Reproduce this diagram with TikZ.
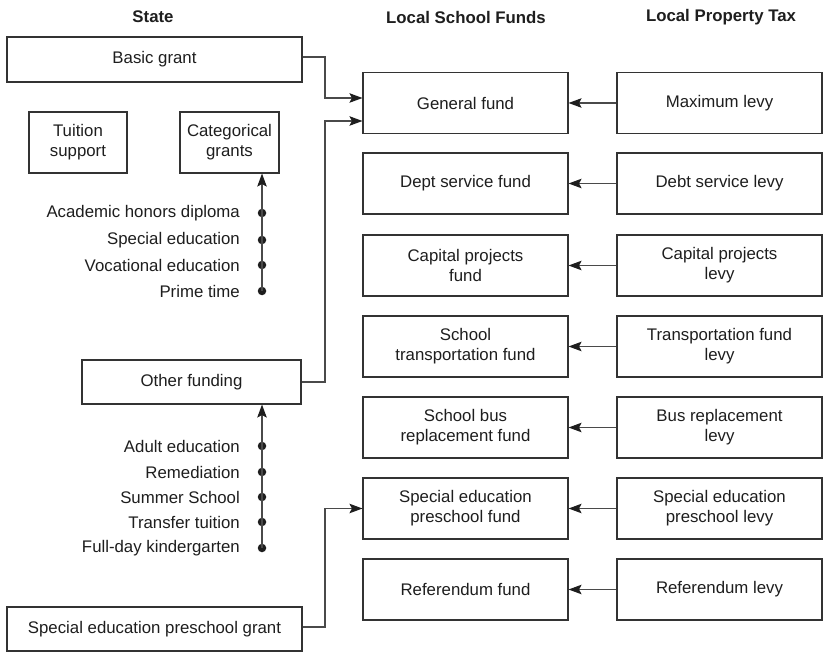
\documentclass[tikz,border=0pt]{standalone}
\usepackage{fontspec}
\setmainfont{Liberation Sans}
\usetikzlibrary{arrows.meta}
\definecolor{ink}{HTML}{1E1E1E}
\definecolor{boxline}{HTML}{333333}
\definecolor{conn}{HTML}{4A4A4A}
\begin{document}
\begin{tikzpicture}[x=1pt,y=-1pt,
  every node/.style={font=\fontsize{16.8}{20}\selectfont, text=ink},
  fbox/.style={draw=boxline, line width=1.1pt, rectangle, inner sep=0pt, align=center},
  colbox/.style={fbox, minimum width=205pt, minimum height=61pt},
  hdr/.style={font=\fontsize{16.8}{20}\selectfont\bfseries},
  lbl/.style={anchor=east, inner sep=0pt},
  dotn/.style={circle, fill=ink, inner sep=0pt, minimum size=8.5pt},
  arr/.style={draw=conn, line width=1.1pt, -{Stealth[length=13pt,width=9.5pt,inset=2.5pt,color=ink]}},
  ln/.style={draw=conn, line width=1.1pt}]
\useasboundingbox (0,0) rectangle (826,652);
\fill[white] (0,0) rectangle (826,652);

% headers
\node[hdr] (hState) at (153,17) {State};
\node[hdr] (hFunds) at (466,17) {Local School Funds};
\node[hdr] (hTax) at (721,17) {Local Property Tax};

% state column
\node[fbox, minimum width=295pt, minimum height=45pt] (basic) at (154.5,59.5) {Basic grant};
\node[fbox, minimum width=98pt, minimum height=61pt] (tuition) at (78,142.5) {Tuition\\support};
\node[fbox, minimum width=99pt, minimum height=61pt] (categ) at (229.5,142.5) {Categorical\\grants};
\node[fbox, minimum width=219pt, minimum height=44pt] (other) at (191.5,382) {Other funding};
\node[fbox, minimum width=295pt, minimum height=44pt] (spgrant) at (154.5,629) {Special education preschool grant};

% categorical list
\node[lbl] (c1) at (240,213) {Academic honors diploma};
\node[lbl] (c2) at (240,240) {Special education};
\node[lbl] (c3) at (240,265) {Vocational education};
\node[lbl] (c4) at (240,291) {Prime time};
\node[dotn] (cd1) at (262,213) {};
\node[dotn] (cd2) at (262,240) {};
\node[dotn] (cd3) at (262,265) {};
\node[dotn] (cd4) at (262,291) {};
\draw[arr] (cd4.center) -- (categ.south -| cd4.center);

% other funding list
\node[lbl] (o1) at (240,446) {Adult education};
\node[lbl] (o2) at (240,472) {Remediation};
\node[lbl] (o3) at (240,497) {Summer School};
\node[lbl] (o4) at (240,522) {Transfer tuition};
\node[lbl] (o5) at (240,548) {Full-day kindergarten};
\node[dotn] (od1) at (262,446) {};
\node[dotn] (od2) at (262,472) {};
\node[dotn] (od3) at (262,497) {};
\node[dotn] (od4) at (262,522) {};
\node[dotn] (od5) at (262,548) {};
\draw[arr] (od5.center) -- (other.south -| od5.center);

% local school funds
\node[colbox] (f1) at (465.5,103) {General fund};
\node[colbox] (f2) at (465.5,183.5) {Dept service fund};
\node[colbox] (f3) at (465.5,265.5) {Capital projects\\fund};
\node[colbox] (f4) at (465.5,346.5) {School\\transportation fund};
\node[colbox] (f5) at (465.5,427.5) {School bus\\replacement fund};
\node[colbox] (f6) at (465.5,508.5) {Special education\\preschool fund};
\node[colbox] (f7) at (465.5,589.5) {Referendum fund};

% local property tax
\node[colbox] (t1) at (719.5,103) {Maximum levy};
\node[colbox] (t2) at (719.5,183.5) {Debt service levy};
\node[colbox] (t3) at (719.5,265.5) {Capital projects\\levy};
\node[colbox] (t4) at (719.5,346.5) {Transportation fund\\levy};
\node[colbox] (t5) at (719.5,427.5) {Bus replacement\\levy};
\node[colbox] (t6) at (719.5,508.5) {Special education\\preschool levy};
\node[colbox] (t7) at (719.5,589.5) {Referendum levy};

\foreach \i in {1,...,7} {\draw[arr] (t\i.west) -- (f\i.east);}

% state to funds
\coordinate (jx) at (325,0);
\draw[arr] ([yshift=2.5pt]basic.east) -- ([yshift=2.5pt]basic.east -| jx) |- ([yshift=5pt]f1.west);
\draw[arr] (other.east) -- (other.east -| jx) |- ([yshift=-18pt]f1.west);
\draw[arr] ([yshift=2pt]spgrant.east) -- ([yshift=2pt]spgrant.east -| jx) |- (f6.west);
\end{tikzpicture}
\end{document}
